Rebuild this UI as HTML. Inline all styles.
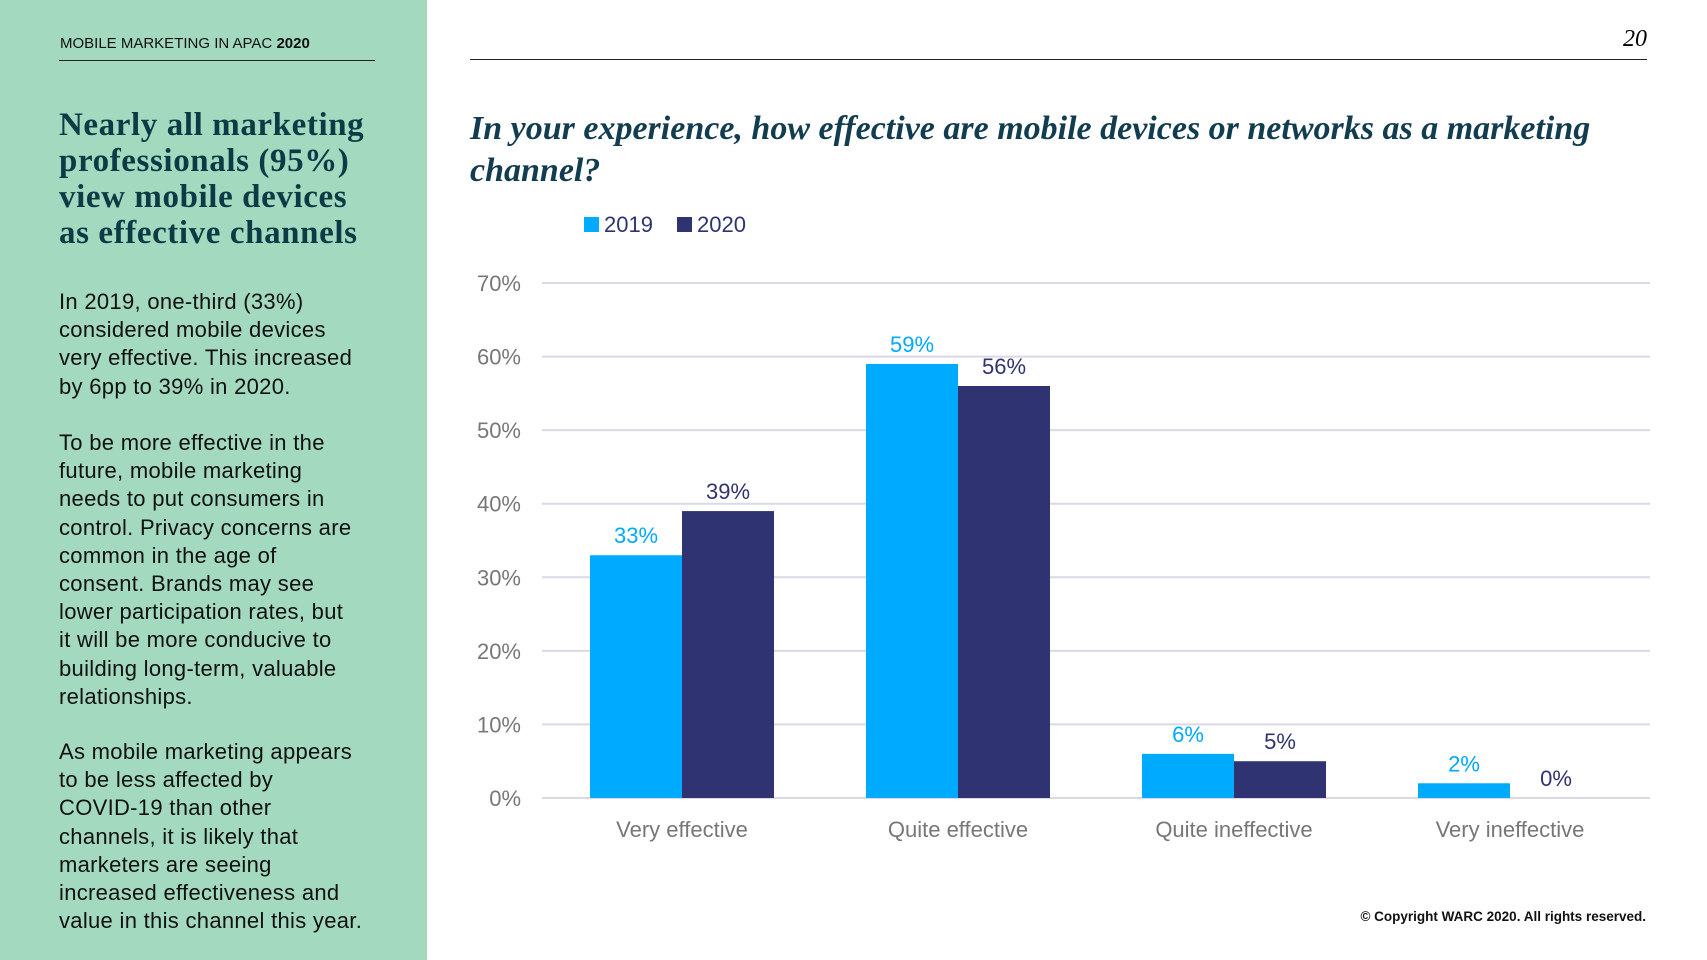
<!DOCTYPE html>
<html><head><meta charset="utf-8"><style>
body{margin:0;width:1707px;height:960px;position:relative;background:#fff;font-family:"Liberation Sans",sans-serif;overflow:hidden}
.abs{position:absolute}
#side{left:0;top:0;width:427px;height:960px;background:#a2d9bf}
.body{left:59px;font-size:22px;line-height:28.2px;color:#111;white-space:nowrap;letter-spacing:0.3px}
.h{left:59px;top:107px;font-family:"Liberation Serif",serif;font-weight:bold;font-size:33px;line-height:36px;color:#0d3b45;white-space:nowrap;letter-spacing:0.6px}
</style></head><body>
<div id="side" class="abs"></div>
<div class="abs" style="left:60px;top:35px;font-size:15px;color:#111">MOBILE MARKETING IN APAC <b>2020</b></div>
<div class="abs" style="left:59px;top:60px;width:316px;height:1px;background:#222"></div>
<div class="abs h">Nearly all marketing<br>professionals (95%)<br>view mobile devices<br>as effective channels</div>
<div class="abs body" style="top:288px">In 2019, one-third (33%)<br>considered mobile devices<br>very effective. This increased<br>by 6pp to 39% in 2020.</div>
<div class="abs body" style="top:429px">To be more effective in the<br>future, mobile marketing<br>needs to put consumers in<br>control. Privacy concerns are<br>common in the age of<br>consent. Brands may see<br>lower participation rates, but<br>it will be more conducive to<br>building long-term, valuable<br>relationships.</div>
<div class="abs body" style="top:738px">As mobile marketing appears<br>to be less affected by<br>COVID-19 than other<br>channels, it is likely that<br>marketers are seeing<br>increased effectiveness and<br>value in this channel this year.</div>
<div class="abs" style="left:1600px;top:26px;width:47px;text-align:right;font-family:'Liberation Serif',serif;font-style:italic;font-size:24px">20</div>
<div class="abs" style="left:470px;top:59px;width:1177px;height:1px;background:#222"></div>
<div class="abs" style="left:470px;top:108px;width:1180px;font-family:'Liberation Serif',serif;font-style:italic;font-weight:bold;font-size:34px;line-height:42px;color:#123c50">In your experience, how effective are mobile devices or networks as a marketing channel?</div>
<div class="abs" style="left:300px;top:909px;width:1346px;text-align:right;font-size:13.5px;font-weight:bold;color:#111">© Copyright WARC 2020. All rights reserved.</div>
<svg class="abs" style="left:0;top:0" width="1707" height="960" id="chart"></svg>
<script>
const categories=["Very effective","Quite effective","Quite ineffective","Very ineffective"];
const series2019=[33,59,6,2];
const series2020=[39,56,5,0];
const ticks=[0,10,20,30,40,50,60,70];
const seriesNames=["2019","2020"];
const colors=["#00aaff","#303372"];
const svg=document.getElementById('chart');
const NS="http://www.w3.org/2000/svg";
const x0=542,x1=1650,y0=798,yTop=283;
const y=v=>y0-(v/70)*(y0-yTop);
const gw=276;
const cx=i=>682+gw*i;
function el(t,a,txt){const e=document.createElementNS(NS,t);for(const k in a)e.setAttribute(k,a[k]);if(txt!==undefined)e.textContent=txt;svg.appendChild(e);return e;}
ticks.forEach(t=>{
 const l=el('line',{x1:x0,x2:x1,y1:y(t),y2:y(t),stroke:'#d9d9e6','stroke-width':2});
 
 
 const tx=el('text',{x:521,y:y(t)+8,'text-anchor':'end','font-size':22,fill:'#777','font-family':'Liberation Sans'},t+'%');
 
 
});
const bw=92;
[series2019,series2020].forEach((s,si)=>{
 s.forEach((v,i)=>{
  const bx=cx(i)-bw+si*bw;
  const r=el('rect',{x:bx,y:y(v),width:bw,height:y0-y(v),fill:colors[si]});
  
  
  const t=el('text',{x:bx+bw/2,y:y(v)-12,'text-anchor':'middle','font-size':22,fill:colors[si],'font-family':'Liberation Sans'},v+'%');
  
  
 });
});
categories.forEach((c,i)=>{
 const t=el('text',{x:cx(i),y:837,'text-anchor':'middle','font-size':22,fill:'#777','font-family':'Liberation Sans'},c);
 
 
});
const lx=[584,677];
seriesNames.forEach((n,i)=>{
 const r=el('rect',{x:lx[i],y:217,width:15,height:15,fill:colors[i]});
 
 
 const t=el('text',{x:lx[i]+20,y:232,'font-size':22,fill:'#303372','font-family':'Liberation Sans'},n);
 
 
});
</script>
</body></html>
